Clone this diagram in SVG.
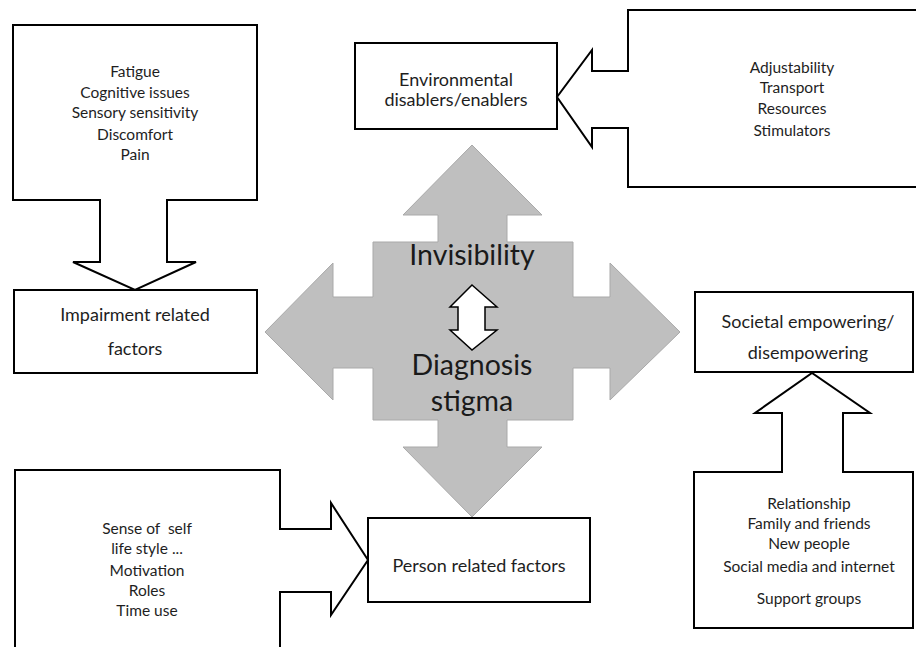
<svg xmlns="http://www.w3.org/2000/svg" width="916" height="647" viewBox="0 0 916 647">
<style>
.box{fill:#fff;stroke:#000;stroke-width:2}
.call{fill:#fff;stroke:#000;stroke-width:2;stroke-linejoin:miter}
.t{font-family:Lato,"Liberation Sans",sans-serif;fill:#1e1e1e;text-anchor:middle}
.s{font-size:15.5px}
.l{font-size:18px}
.big{font-family:Lato,"Liberation Sans",sans-serif;font-size:28.5px;fill:#1a1a1a;text-anchor:middle}
.cross{fill:#bfbfbf;stroke:#a9a9a9;stroke-width:1}
</style>
<rect width="916" height="647" fill="#fff"/>

<g id="connectors">
  <path id="center-cross" class="cross" d="M472,145 L542,215 H507 V242 H573 V297 H610 V263 L680,332 L610,400 V368 H573 V420 H507 V447 H542 L472,517 L403,447 H438 V420 H373 V368 H333 V400 L265,332 L333,263 V297 H373 V242 H438 V215 H403 Z"/>
  <path id="small-double-arrow" d="M472,285 L497,307 H485 V330 H497 L472,350 L450,330 H458 V307 H450 Z" fill="#fff" stroke="#000" stroke-width="1.5"/>
</g>

<g id="impairment-sources">
  <path class="call" d="M13,25 H257 V200 H167 V262 H196 L135,290 L73,262 H100 V200 H13 Z"/>
  <text class="t s" x="135" y="77">Fatigue</text>
  <text class="t s" x="135" y="97.5">Cognitive issues</text>
  <text class="t s" x="135" y="118">Sensory sensitivity</text>
  <text class="t s" x="135" y="139.5">Discomfort</text>
  <text class="t s" x="135" y="160">Pain</text>
</g>

<g id="impairment">
  <rect class="box" x="14" y="290" width="243" height="83"/>
  <text class="t l" x="135" y="321">Impairment related</text>
  <text class="t l" x="135" y="355">factors</text>
</g>

<g id="environmental">
  <rect class="box" x="355" y="43" width="202" height="86"/>
  <text class="t l" x="456" y="86">Environmental</text>
  <text class="t l" x="456" y="106">disablers/enablers</text>
</g>

<g id="environmental-sources">
  <path class="call" d="M925,10 H628 V71 H592 V50 L557,97 L592,147 V128 H628 V187 H925"/>
  <text class="t s" x="792" y="72.5">Adjustability</text>
  <text class="t s" x="792" y="92.5">Transport</text>
  <text class="t s" x="792" y="113.5">Resources</text>
  <text class="t s" x="792" y="135.5">Stimulators</text>
</g>

<g id="center">
  <text class="big" x="472" y="265">Invisibility</text>
  <text class="big" x="472" y="375">Diagnosis</text>
  <text class="big" x="472" y="411">stigma</text>
</g>

<g id="societal">
  <rect class="box" x="695" y="292" width="218" height="80"/>
  <text class="t l" x="808" y="328">Societal empowering/</text>
  <text class="t l" x="808" y="359">disempowering</text>
</g>

<g id="societal-sources">
  <path class="call" d="M694,628 V472 H782 V413 H755 L812,373 L870,413 H843 V472 H913 V628 Z"/>
  <text class="t s" x="809" y="508.5">Relationship</text>
  <text class="t s" x="809" y="528.5">Family and friends</text>
  <text class="t s" x="809" y="548.5">New people</text>
  <text class="t s" x="809" y="571.5">Social media and internet</text>
  <text class="t s" x="809" y="603.5">Support groups</text>
</g>

<g id="person-sources">
  <path class="call" d="M15,650 V470 H280 V529 H331 V503 L368,560 L331,615 V592 H280 V650"/>
  <text class="t s" x="147" y="533.5" xml:space="preserve">Sense of  self</text>
  <text class="t s" x="147" y="554">life style ...</text>
  <text class="t s" x="147" y="575.5">Motivation</text>
  <text class="t s" x="147" y="596">Roles</text>
  <text class="t s" x="147" y="616">Time use</text>
</g>

<g id="person">
  <rect class="box" x="368" y="518" width="222" height="84"/>
  <text class="t l" x="479" y="572">Person related factors</text>
</g>
</svg>
